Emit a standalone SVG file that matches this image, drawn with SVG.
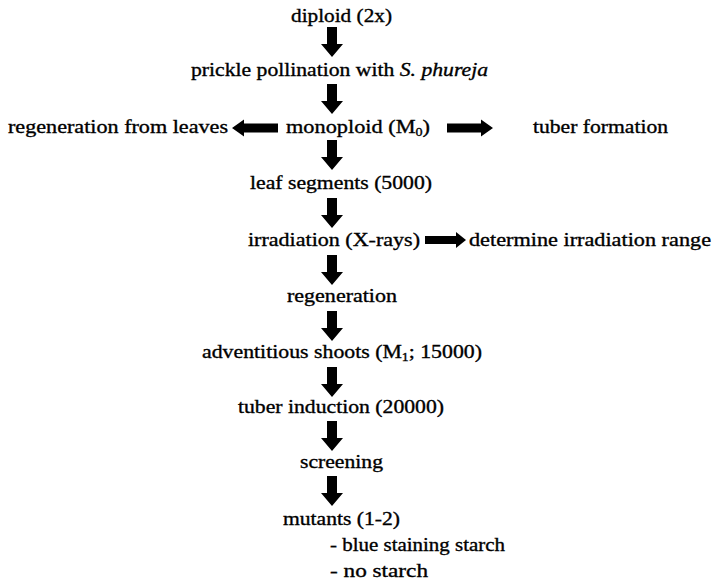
<svg xmlns="http://www.w3.org/2000/svg" xmlns:xlink="http://www.w3.org/1999/xlink" width="714" height="584" viewBox="0 0 714 584">
<style>
  .t { font-family: "Liberation Serif", "Times New Roman", serif; font-size: 19px; fill: #000; stroke: #000; stroke-width: 0.35; }
  .i { font-style: italic; }
  .arr { fill: #000; }
</style>
<defs>
  <path id="down" d="M-5,0 H5 V17 H11 L0,30 L-11,17 H-5 Z"/>
  <path id="right" d="M0,-4.5 H34 V-8.5 L46,0 L34,8.5 V4.5 H0 Z"/>
  <path id="left" d="M0,-4.5 H-34 V-8.5 L-46,0 L-34,8.5 V4.5 H0 Z"/>
  <path id="right-s" d="M0,-4 H31 V-8 L41,0 L31,8 V4 H0 Z"/>
</defs>
<rect width="714" height="584" fill="#fff"/>
<g id="connectors" class="arr">
  <use xlink:href="#down" x="332" y="27"/>
  <use xlink:href="#down" x="332" y="84"/>
  <use xlink:href="#down" x="332" y="140"/>
  <use xlink:href="#down" x="332" y="198"/>
  <use xlink:href="#down" x="332" y="255"/>
  <use xlink:href="#down" x="332" y="311"/>
  <use xlink:href="#down" x="332" y="367"/>
  <use xlink:href="#down" x="332" y="421"/>
  <use xlink:href="#down" x="332" y="476"/>
  <use xlink:href="#left" x="278" y="128"/>
  <use xlink:href="#right" x="447" y="128"/>
  <use xlink:href="#right-s" x="425" y="240"/>
</g>
<g id="n-diploid"><text class="t" x="291" y="22" textLength="101" lengthAdjust="spacingAndGlyphs">diploid (2x)</text></g>
<g id="n-prickle"><text class="t" x="191" y="76" textLength="297" lengthAdjust="spacingAndGlyphs">prickle pollination with <tspan class="i">S. phureja</tspan></text></g>
<g id="n-regen-leaves"><text class="t" x="8" y="133" textLength="220" lengthAdjust="spacingAndGlyphs">regeneration from leaves</text></g>
<g id="n-monoploid"><text class="t" x="286" y="133" textLength="144" lengthAdjust="spacingAndGlyphs">monoploid (M<tspan font-size="12" dy="3">0</tspan><tspan dy="-3">)</tspan></text></g>
<g id="n-tuber-formation"><text class="t" x="533" y="133" textLength="135" lengthAdjust="spacingAndGlyphs">tuber formation</text></g>
<g id="n-leaf"><text class="t" x="250" y="189" textLength="182" lengthAdjust="spacingAndGlyphs">leaf segments (5000)</text></g>
<g id="n-irradiation"><text class="t" x="248" y="246" textLength="172" lengthAdjust="spacingAndGlyphs">irradiation (X-rays)</text></g>
<g id="n-determine"><text class="t" x="469" y="246" textLength="242" lengthAdjust="spacingAndGlyphs">determine irradiation range</text></g>
<g id="n-regeneration"><text class="t" x="287" y="302" textLength="110" lengthAdjust="spacingAndGlyphs">regeneration</text></g>
<g id="n-adventitious"><text class="t" x="202" y="358" textLength="280" lengthAdjust="spacingAndGlyphs">adventitious shoots (M<tspan font-size="12" dy="3">1</tspan><tspan dy="-3">; 15000)</tspan></text></g>
<g id="n-tuber-induction"><text class="t" x="238" y="413" textLength="206" lengthAdjust="spacingAndGlyphs">tuber induction (20000)</text></g>
<g id="n-screening"><text class="t" x="300" y="468" textLength="83" lengthAdjust="spacingAndGlyphs">screening</text></g>
<g id="n-mutants">
  <text class="t" x="283" y="525" textLength="117" lengthAdjust="spacingAndGlyphs">mutants (1-2)</text>
  <text class="t" x="330" y="551" textLength="175" lengthAdjust="spacingAndGlyphs">- blue staining starch</text>
  <text class="t" x="330" y="577" textLength="98" lengthAdjust="spacingAndGlyphs">- no starch</text>
</g>
</svg>
